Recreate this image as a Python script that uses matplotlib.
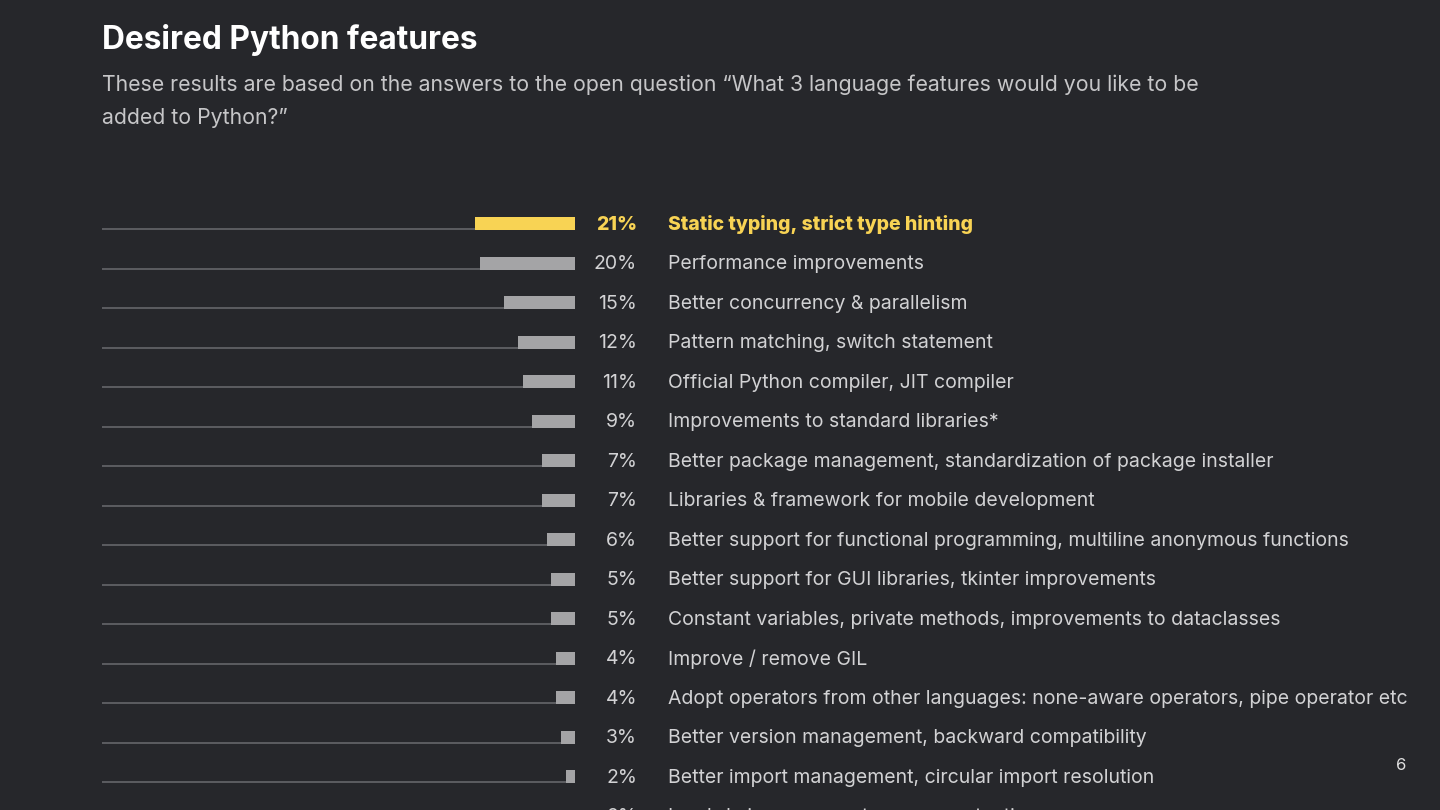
import matplotlib.pyplot as plt
import matplotlib.transforms as mtransforms

plt.rcParams['font.family'] = ['Inter', 'DejaVu Sans']

features = [
    'Static typing, strict type hinting',
    'Performance improvements',
    'Better concurrency & parallelism',
    'Pattern matching, switch statement',
    'Official Python compiler, JIT compiler',
    'Improvements to standard libraries*',
    'Better package management, standardization of package installer',
    'Libraries & framework for mobile development',
    'Better support for functional programming, multiline anonymous functions',
    'Better support for GUI libraries, tkinter improvements',
    'Constant variables, private methods, improvements to dataclasses',
    'Improve / remove GIL',
    'Adopt operators from other languages: none-aware operators, pipe operator etc',
    'Better version management, backward compatibility',
    'Better import management, circular import resolution',
    'Lambda improvements, more syntactic sugar',
]
shares = [21, 20, 15, 12, 11, 9, 7, 7, 6, 5, 5, 4, 4, 3, 2, 2]

bg = '#26272b'
yellow = '#f8d354'
grey_bar = '#a4a4a6'
line_col = '#6a6b6f'
text_col = '#d2d2d4'

W, H = 1440, 810
fig = plt.figure(figsize=(14.4, 8.1), dpi=100, facecolor=bg)

# axes placed in pixel terms: bars end at x=575, baselines start at x=102
x0, x1 = 102, 575
px_per_pct = 4.75
row0, row_step = 223.5, 39.5
top_px, bot_px = 190, 830
ax = fig.add_axes([x0 / W, 1 - bot_px / H, (x1 - x0) / W, (bot_px - top_px) / H])
ax.set_facecolor(bg)
ax.set_xlim(-(x1 - x0) / px_per_pct, 0)
ax.set_ylim((bot_px - row0) / row_step, (top_px - row0) / row_step)
ax.axis('off')

bar_h = 13 / row_step
for i, (name, v) in enumerate(zip(features, shares)):
    col = yellow if i == 0 else grey_bar
    ax.barh(i, -v, height=bar_h, color=col, edgecolor='none')
    ax.hlines(i + bar_h / 2 - 0.02, ax.get_xlim()[0], -v, color=line_col, linewidth=1.1)

trans = mtransforms.blended_transform_factory(fig.transFigure, ax.transData)
for i, (name, v) in enumerate(zip(features, shares)):
    if i == 0:
        kw = dict(color=yellow, fontweight='heavy')
    else:
        kw = dict(color=text_col, fontweight='normal')
    ax.text(637 / W, i + 0.03, f'{v}%', transform=trans, ha='right', va='center',
            fontsize=14, clip_on=False, **kw)
    ax.text(668 / W, i + 0.03, name, transform=trans, ha='left', va='center',
            fontsize=14, clip_on=False, **kw)

fig.text(102 / W, 1 - 40 / H, 'Desired Python features', color='white',
         fontsize=22.8, fontweight='bold', ha='left', va='center')
fig.text(102 / W, 1 - 85 / H,
         'These results are based on the answers to the open question \u201cWhat 3 language features would you like to be',
         color='#c6c6c8', fontsize=15.3, ha='left', va='center')
fig.text(102 / W, 1 - 118 / H, 'added to Python?\u201d',
         color='#c6c6c8', fontsize=15.3, ha='left', va='center')
fig.text(1401 / W, 1 - 766 / H, '6', color='#e0e0e0', fontsize=12,
         ha='center', va='center')

fig.savefig('out.png', dpi=100, facecolor=bg)
